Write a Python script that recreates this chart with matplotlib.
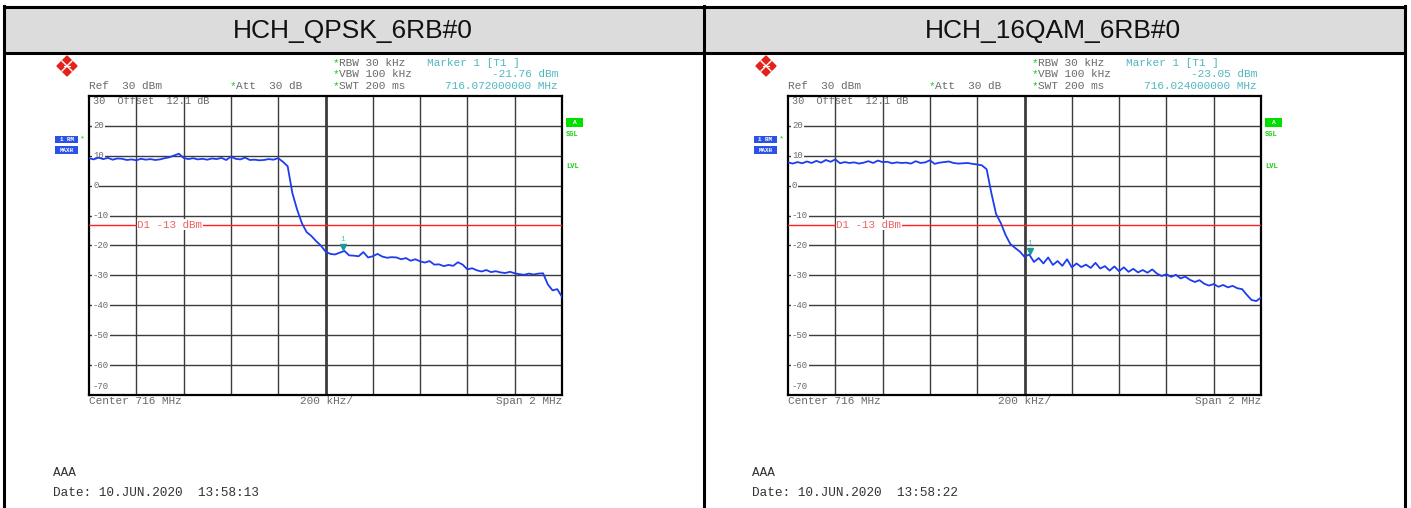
import numpy as np
import matplotlib
matplotlib.use('Agg')
import matplotlib.pyplot as plt
from matplotlib.patches import Rectangle, Polygon

W, H = 1411, 508

titles = ['HCH_QPSK_6RB#0', 'HCH_16QAM_6RB#0']
dates = ['10.JUN.2020  13:58:13', '10.JUN.2020  13:58:22']
marker_freq = [716.072, 716.024]
marker_level = [-21.76, -23.05]
center_mhz = 716
span_mhz = 2
display_line = -13
y_ticks = [30, 20, 10, 0, -10, -20, -30, -40, -50, -60, -70]

# trace levels (dBm), one reading per 20 kHz from 715 to 717 MHz
qpsk_level = [
    9.2, 8.8, 9.4, 8.9, 9.3, 8.7, 9.1, 9.0, 8.6, 8.8,
    8.5, 9.0, 8.7, 8.9, 8.6, 8.8, 9.2, 9.5, 10.1, 10.7,
    9.3, 8.9, 9.2, 8.8, 9.0, 8.7, 9.1, 8.9, 9.3, 8.6,
    9.7, 9.0, 8.8, 9.4, 8.6, 8.7, 8.5, 8.6, 8.9, 8.7,
    9.2, 8.0, 6.5, -2.5, -8.0, -12.5, -15.5, -16.8, -18.5, -20.0,
    -22.0, -22.8, -23.0, -22.4, -21.8, -23.3, -23.4, -23.6, -22.2, -24.0,
    -23.6, -22.8, -23.7, -24.1, -23.9, -24.0, -24.6, -24.2, -25.1, -24.6,
    -25.3, -25.7, -25.2, -26.4, -26.3, -26.9, -26.5, -26.8, -25.6, -26.4,
    -28.0, -27.6, -28.3, -28.7, -28.2, -28.9, -28.6, -29.0, -29.2, -28.8,
    -29.3, -29.6, -29.8, -29.4, -29.7, -29.4, -29.3, -33.0, -35.0, -34.6,
    -37.2,
]
qam_level = [
    7.8, 7.4, 7.9, 7.5, 8.1, 7.6, 8.3, 7.7, 8.6, 8.0,
    8.8, 7.5, 7.9, 7.6, 7.8, 7.4, 7.7, 8.2, 7.6, 8.4,
    7.9, 8.0, 7.5, 7.8, 7.6, 7.7, 7.4, 8.2, 7.6, 7.8,
    8.5, 7.3, 7.7, 7.9, 8.1, 7.6, 7.4, 7.5, 7.6, 7.3,
    7.1, 6.8, 5.5, -2.5, -9.5, -12.5, -16.5, -19.5, -20.8, -22.0,
    -23.8, -23.0, -25.5, -24.2, -26.0, -24.0, -26.5, -25.2, -26.8, -24.6,
    -27.3, -26.0, -27.2, -26.4, -27.5, -25.8, -27.7, -26.9, -28.4, -27.0,
    -28.6, -27.3, -28.8, -27.8, -29.0, -28.2, -29.1, -28.0, -29.4, -30.2,
    -29.6, -30.5, -29.8, -31.0, -30.4, -31.5, -32.2, -31.6, -32.8, -33.4,
    -32.9, -33.8, -33.2, -34.0, -33.5, -34.3, -34.6, -36.5, -38.2, -38.6,
    -37.4,
]
levels = [qpsk_level, qam_level]

mono = 'Liberation Mono'
grey = '#6a6a6a'
teal = '#4fb8c0'
green = '#10d010'
blue = '#1e3cf0'

fig = plt.figure(figsize=(W / 100, H / 100), dpi=100)
bg = fig.add_axes([0, 0, 1, 1])
bg.set_xlim(0, W)
bg.set_ylim(H, 0)
bg.axis('off')

# title bar and frame
bg.add_patch(Rectangle((4, 7), 1401, 46, fc='#dcdcdc', ec='none'))
bg.plot([4, 1405], [7, 7], color='black', lw=2.2)
bg.plot([4, 1405], [53, 53], color='black', lw=2.2)
for xv in [4, 704, 1405]:
    bg.plot([xv, xv], [6, H], color='black', lw=2.2)

for i in range(2):
    dx = 699 * i
    bg.text(353 + 700 * i, 31, titles[i], ha='center', va='center', fontsize=19,
            family='Liberation Sans', color='#111111')

    # R&S logo
    cx, cy, r = 67 + dx, 66, 10
    bg.add_patch(Polygon([[cx - r, cy], [cx, cy - r], [cx + r, cy], [cx, cy + r]],
                         closed=True, fc='#e3231b', ec='#e3231b', lw=1))
    bg.plot([cx - 5, cx + 5], [cy - 5, cy + 5], color='white', lw=1.0)
    bg.plot([cx - 5, cx + 5], [cy + 5, cy - 5], color='white', lw=1.0)
    bg.plot([cx - 3, cx + 3], [cy, cy], color='white', lw=0.8)

    # header
    fs = 8
    bg.text(89 + dx, 86, 'Ref  30 dBm', fontsize=fs, family=mono, color=grey, va='center')
    bg.text(230 + dx, 86, '*', fontsize=fs, family=mono, color=green, va='center')
    bg.text(236 + dx, 86, 'Att  30 dB', fontsize=fs, family=mono, color=grey, va='center')
    for yy, s in [(63, 'RBW 30 kHz'), (74, 'VBW 100 kHz'), (86, 'SWT 200 ms')]:
        bg.text(333 + dx, yy, '*', fontsize=fs, family=mono, color=green, va='center')
        bg.text(339 + dx, yy, s, fontsize=fs, family=mono, color=grey, va='center')
    bg.text(427 + dx, 63, 'Marker 1 [T1 ]', fontsize=fs, family=mono, color=teal, va='center')
    bg.text(558 + dx, 74, '%.2f dBm' % marker_level[i], fontsize=fs, family=mono,
            color=teal, va='center', ha='right')
    bg.text(558 + dx, 86, '%.9f MHz' % marker_freq[i], fontsize=fs, family=mono,
            color=teal, va='center', ha='right')

    # trace labels at left
    bg.add_patch(Rectangle((55 + dx, 136), 23, 7, fc='#2a52e6', ec='none'))
    bg.text(66.5 + dx, 139.5, '1 RM', fontsize=4.2, family=mono, color='white',
            ha='center', va='center', weight='bold')
    bg.text(80 + dx, 139, '*', fontsize=6, family=mono, color=green, va='center')
    bg.add_patch(Rectangle((55 + dx, 146), 23, 8, fc='#2a52e6', ec='none'))
    bg.text(66.5 + dx, 150, 'MAXH', fontsize=4.2, family=mono, color='white',
            ha='center', va='center', weight='bold')

    # right side status
    bg.add_patch(Rectangle((566 + dx, 118), 17, 9, fc='#00e000', ec='none'))
    bg.text(574.5 + dx, 122.5, 'A', fontsize=4.5, family=mono, color='white',
            ha='center', va='center', weight='bold')
    bg.text(566 + dx, 135, 'SGL', fontsize=5, family=mono, color=green, va='center', weight='bold')
    bg.text(566 + dx, 167, 'LVL', fontsize=5, family=mono, color=green, va='center', weight='bold')

    # footer under the graticule
    bg.text(89 + dx, 401, 'Center %d MHz' % center_mhz, fontsize=fs, family=mono, color=grey, va='center')
    bg.text(326 + dx, 401, '200 kHz/', fontsize=fs, family=mono, color=grey, va='center', ha='center')
    bg.text(562 + dx, 401, 'Span %d MHz' % span_mhz, fontsize=fs, family=mono, color=grey,
            va='center', ha='right')
    bg.text(53 + dx, 473, 'AAA', fontsize=9.2, family=mono, color='#333333', va='center')
    bg.text(53 + dx, 493, 'Date: ' + dates[i], fontsize=9.2, family=mono, color='#333333', va='center')

    # graticule
    ax = fig.add_axes([(89 + dx) / W, 1 - 395 / H, 473 / W, 299 / H])
    f0 = center_mhz - span_mhz / 2
    f1 = center_mhz + span_mhz / 2
    ax.set_xlim(f0, f1)
    ax.set_ylim(y_ticks[-1], y_ticks[0])
    ax.set_xticks([])
    ax.set_yticks([])
    for sp in ax.spines.values():
        sp.set_linewidth(1.6)
        sp.set_color('black')
    for k in range(1, 10):
        ax.axvline(f0 + k * span_mhz / 10, color='#3c3c3c', lw=2.0 if k == 5 else 1.0, zorder=1)
    for v in y_ticks[1:-1]:
        ax.axhline(v, color='#3c3c3c', lw=1.0, zorder=1)
    px = span_mhz / 473
    for v in y_ticks[1:-1]:
        ax.text(f0 + 4 * px, v, '%d' % v, fontsize=6.5, family=mono, color=grey, va='center',
                ha='left', zorder=2, bbox=dict(fc='white', ec='none', pad=0.6))
    ax.text(f0 + 4 * px, y_ticks[0] - 1.7, '30  Offset  12.1 dB', fontsize=7.4, family=mono,
            color=grey, va='center', ha='left', zorder=2)
    ax.text(f0 + 4 * px, y_ticks[-1] + 2.8, '%d' % y_ticks[-1], fontsize=6.5, family=mono,
            color=grey, va='center', ha='left', zorder=2)

    ax.axhline(display_line, color='#ff2020', lw=1.0, zorder=3)
    ax.text(f0 + 0.2 + 1 * px, display_line, 'D1 -13 dBm', fontsize=7.8, family=mono,
            color='#f06060', va='center', ha='left', zorder=4,
            bbox=dict(fc='white', ec='none', pad=0.3))

    freq = np.linspace(f0, f1, len(levels[i]))
    ax.plot(freq, levels[i], color=blue, lw=1.3, zorder=5)

    ax.plot(marker_freq[i], marker_level[i] + 1.1, marker='v', color='#199a9a', ms=5, zorder=6)
    ax.text(marker_freq[i], marker_level[i] + 3.6, '1', fontsize=5.5, family=mono, color=teal,
            ha='center', va='center', zorder=6)

fig.savefig('out.png', dpi=100)
